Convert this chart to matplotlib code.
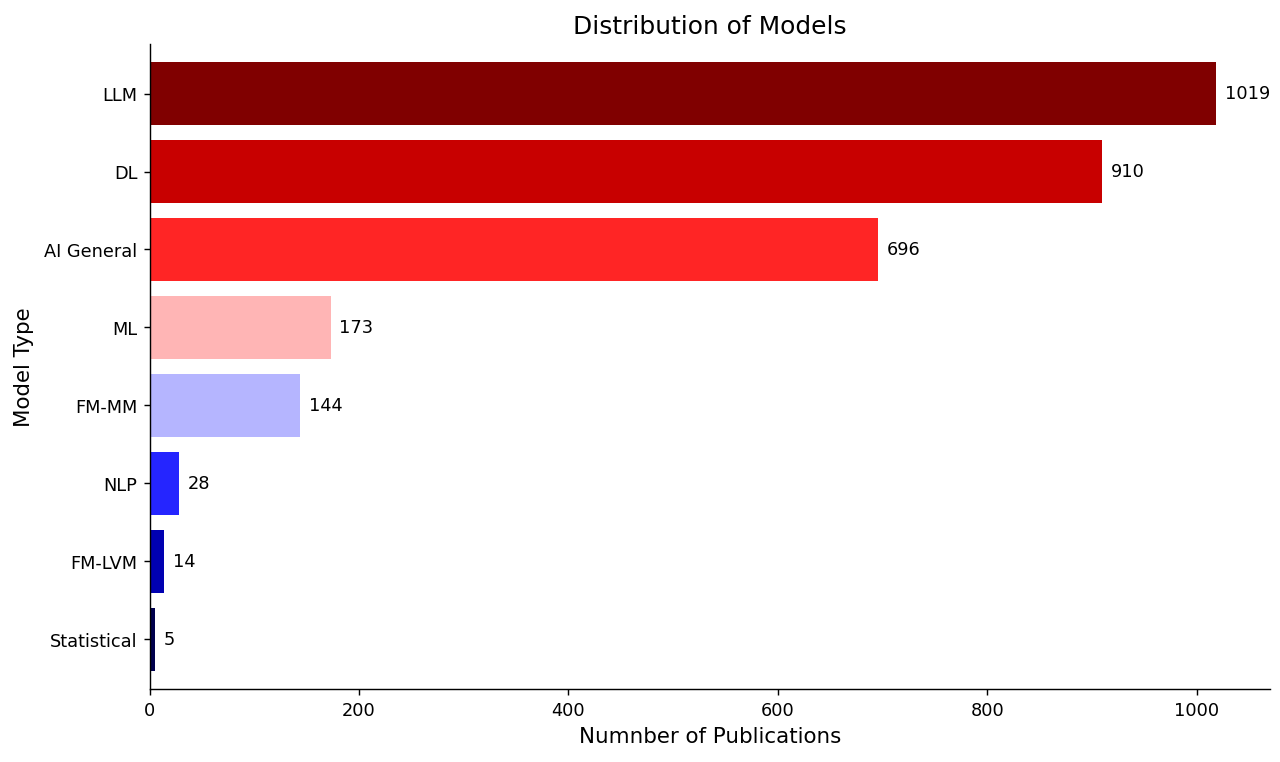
import numpy as np
import matplotlib
matplotlib.use("Agg")
import matplotlib.pyplot as plt

# model types, bottom to top
models = ['Statistical', 'FM-LVM', 'NLP', 'FM-MM', 'ML', 'AI General', 'DL', 'LLM']
counts = [5, 14, 28, 144, 173, 696, 910, 1019]

colors = plt.cm.seismic(np.linspace(0, 1, len(models)))

fig, ax = plt.subplots(figsize=(10, 5.96), dpi=128)
bars = ax.barh(models, counts, color=colors)

for b, v in zip(bars, counts):
    ax.text(b.get_width() + 8, b.get_y() + b.get_height() / 2, str(v),
            va='center', ha='left', fontsize=10)

ax.margins(y=0.03)
ax.set_title('Distribution of Models', fontsize=14)
ax.set_xlabel('Numnber of Publications', fontsize=12)
ax.set_ylabel('Model Type', fontsize=12, labelpad=6)
ax.spines['top'].set_visible(False)
ax.spines['right'].set_visible(False)

plt.subplots_adjust(left=0.117, right=0.992, top=0.941, bottom=0.096)
plt.savefig('out.png', dpi=128)
